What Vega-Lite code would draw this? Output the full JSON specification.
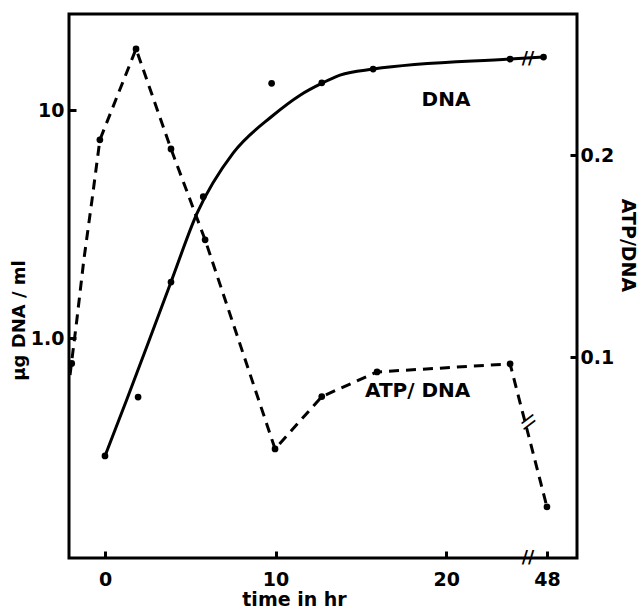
{
  "$schema": "https://vega.github.io/schema/vega-lite/v6.json",
  "width": 508,
  "height": 544,
  "autosize": {"type": "none"},
  "padding": {"left": 69, "top": 14, "right": 62, "bottom": 52},
  "background": "white",
  "config": {
    "font": "DejaVu Sans",
    "view": {"stroke": "black", "strokeWidth": 3},
    "axis": {
      "grid": false,
      "domain": false,
      "tickColor": "black",
      "tickWidth": 3,
      "tickSize": -7,
      "labelColor": "black",
      "labelFont": "DejaVu Sans",
      "labelFontWeight": "bold",
      "labelFontSize": 19,
      "titleColor": "black",
      "titleFont": "DejaVu Sans",
      "titleFontWeight": "bold"
    }
  },
  "datasets": {
    "dnaCurve": [
      {"t": 0, "DNA": 0.304},
      {"t": 1.29, "DNA": 0.54},
      {"t": 2.46, "DNA": 0.92},
      {"t": 3.87, "DNA": 1.761},
      {"t": 5.4, "DNA": 3.53},
      {"t": 7.51, "DNA": 6.48},
      {"t": 9.79, "DNA": 9.4},
      {"t": 11.44, "DNA": 11.63},
      {"t": 12.73, "DNA": 13.13},
      {"t": 13.78, "DNA": 14.24},
      {"t": 15.72, "DNA": 15.13},
      {"t": 23.75, "DNA": 16.74},
      {"t": 47.8, "DNA": 17.08}
    ],
    "dnaPts": [
      {"t": 0, "DNA": 0.304},
      {"t": 1.94, "DNA": 0.551},
      {"t": 3.87, "DNA": 1.761},
      {"t": 5.76, "DNA": 4.17},
      {"t": 9.77, "DNA": 13.1},
      {"t": 12.71, "DNA": 13.17},
      {"t": 15.72, "DNA": 15.13},
      {"t": 23.75, "DNA": 16.74},
      {"t": 47.8, "DNA": 17.08}
    ],
    "atpLine": [
      {"t": -2.05, "ATP": 0.0913},
      {"t": -1.65, "ATP": 0.1186},
      {"t": -1.24, "ATP": 0.1483},
      {"t": -0.76, "ATP": 0.178},
      {"t": -0.3, "ATP": 0.2077},
      {"t": 1.82, "ATP": 0.2527},
      {"t": 3.87, "ATP": 0.2032},
      {"t": 5.87, "ATP": 0.1582},
      {"t": 9.97, "ATP": 0.0547},
      {"t": 12.71, "ATP": 0.0806},
      {"t": 15.95, "ATP": 0.0928},
      {"t": 23.75, "ATP": 0.0968},
      {"t": 48, "ATP": 0.026}
    ],
    "atpPts": [
      {"t": -1.95, "ATP": 0.097},
      {"t": -0.3, "ATP": 0.2077},
      {"t": 1.82, "ATP": 0.2527},
      {"t": 3.87, "ATP": 0.2032},
      {"t": 5.87, "ATP": 0.1582},
      {"t": 9.97, "ATP": 0.0547},
      {"t": 12.71, "ATP": 0.0806},
      {"t": 15.95, "ATP": 0.0928},
      {"t": 23.75, "ATP": 0.0968},
      {"t": 48, "ATP": 0.026}
    ]
  },
  "encoding": {
    "x": {
      "field": "t",
      "type": "quantitative",
      "scale": {"domain": [-2.11, 24.8, 46.89, 49.76], "range": [0, 459, 459, 508], "nice": false, "zero": false},
      "axis": {
        "orient": "bottom",
        "values": [0, 10, 20, 48],
        "format": "d",
        "labelPadding": 19,
        "title": "time in hr",
        "titleFontSize": 19,
        "titleX": 225,
        "titleY": 47,
        "titleBaseline": "alphabetic",
        "titleAlign": "center"
      }
    }
  },
  "layer": [
    {
      "encoding": {
        "y": {
          "field": "DNA",
          "type": "quantitative",
          "scale": {"type": "log", "domain": [0.1084, 26.4], "nice": false},
          "axis": {
            "orient": "left",
            "values": [1, 10],
            "labelExpr": "datum.value == 1 ? '1.0' : '10'",
            "labelPadding": 12,
            "title": "µg  DNA / ml",
            "titleFontSize": 18,
            "titleAngle": -90,
            "titleX": -50,
            "titleY": 306,
            "titleBaseline": "middle",
            "titleAlign": "center"
          }
        }
      },
      "layer": [
        {"data": {"name": "dnaCurve"}, "mark": {"type": "line", "interpolate": "monotone", "color": "black", "strokeWidth": 3}},
        {"data": {"name": "dnaPts"}, "mark": {"type": "circle", "color": "black", "opacity": 1, "size": 45}},
        {
          "data": {"values": [{"t": 19.99, "DNA": 11.07, "label": "DNA"}]},
          "mark": {"type": "text", "fontSize": 20, "fontWeight": "bold", "color": "black", "align": "center", "baseline": "middle"},
          "encoding": {"text": {"field": "label"}}
        },
        {
          "data": {"values": [{"t": 24.8, "DNA": 16.8, "label": "//"}, {"t": 24.8, "DNA": 0.1084, "label": "//"}]},
          "mark": {"type": "text", "fontSize": 17, "fontWeight": "bold", "color": "black", "align": "center", "baseline": "middle"},
          "encoding": {"text": {"field": "label"}}
        }
      ]
    },
    {
      "encoding": {
        "y": {
          "field": "ATP",
          "type": "quantitative",
          "scale": {"domain": [0.0007, 0.27], "nice": false, "zero": false},
          "axis": {
            "orient": "right",
            "values": [0.1, 0.2],
            "format": ".1f",
            "labelPadding": 10,
            "title": "ATP/DNA",
            "titleFontSize": 19,
            "titleAngle": 90,
            "titleX": 50,
            "titleY": 231,
            "titleBaseline": "middle",
            "titleAlign": "center"
          }
        }
      },
      "layer": [
        {"data": {"name": "atpLine"}, "mark": {"type": "line", "color": "black", "strokeWidth": 3, "strokeDash": [10, 7]}},
        {"data": {"name": "atpPts"}, "mark": {"type": "circle", "color": "black", "opacity": 1, "size": 45}},
        {
          "data": {"values": [{"t": 18.33, "ATP": 0.0836, "label": "ATP/ DNA"}]},
          "mark": {"type": "text", "fontSize": 20, "fontWeight": "bold", "color": "black", "align": "center", "baseline": "middle"},
          "encoding": {"text": {"field": "label"}}
        },
        {
          "data": {"values": [{"t": 24.8, "ATP": 0.068, "label": "\\\\"}]},
          "mark": {"type": "text", "fontSize": 17, "fontWeight": "bold", "color": "black", "align": "center", "baseline": "middle", "angle": 70},
          "encoding": {"text": {"field": "label"}}
        }
      ]
    }
  ],
  "resolve": {"scale": {"y": "independent"}}
}
